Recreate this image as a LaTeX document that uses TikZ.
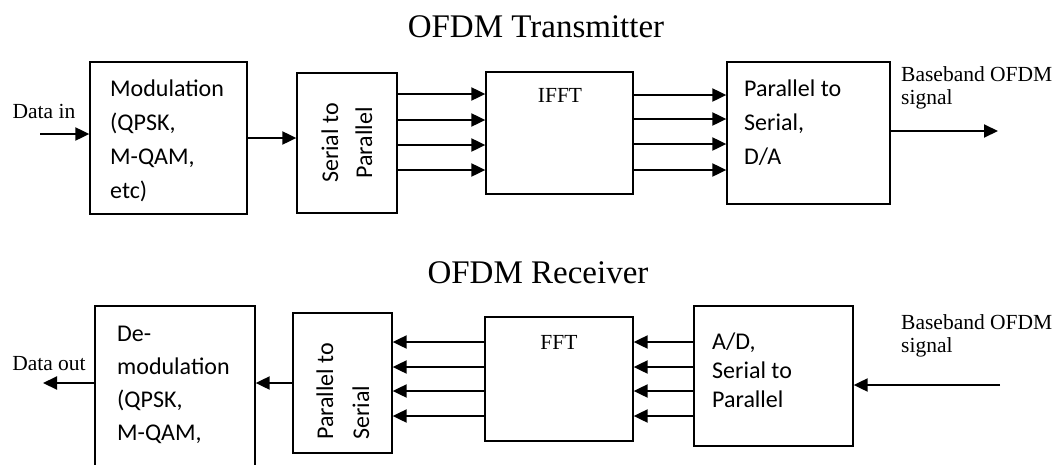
\documentclass[tikz,border=0pt]{standalone}
\usepackage{fontspec}
\setmainfont{Liberation Serif}
\newfontfamily\calfont{Carlito}
\usetikzlibrary{arrows.meta}

\begin{document}
\begin{tikzpicture}[x=1pt,y=-1pt]
    \tikzstyle{blk}=[draw,line width=1.3pt,inner sep=0pt]
    \tikzstyle{btxt}=[font=\calfont\fontsize{24pt}{34pt}\selectfont,align=left,inner sep=0pt]
    \tikzstyle{lbl}=[font=\fontsize{21.5pt}{23pt}\selectfont,align=left,inner sep=0pt]
    \tikzstyle{ttl}=[font=\fontsize{33pt}{40pt}\selectfont,inner sep=0pt]
    \tikzstyle{arr}=[-{Triangle[length=14pt,width=13pt]},line width=2pt]
    \useasboundingbox (0,0) rectangle (1061,464);
    % transmitter
    \node[ttl,anchor=base] (txtitle) at (536,37) {OFDM Transmitter};
    \node[lbl,anchor=base] (datain) at (44,118) {Data in};
    \coordinate (din) at (40,134);
    \node[blk,minimum width=157pt,minimum height=152pt] (mod) at (168.5,138) {};
    \node[btxt,anchor=north west] (modtxt) at (110,80) {Modulation\\(QPSK,\\M-QAM,\\etc)};
    \node[blk,minimum width=100pt,minimum height=140pt] (sp) at (347,143) {};
    \node[btxt,rotate=90,align=center] (sptxt) at (sp.center) {Serial to\\Parallel};
    \node[blk,minimum width=147pt,minimum height=122pt] (ifft) at (559.5,133) {};
    \node[lbl] (iffttxt) at (560,95) {IFFT};
    \node[blk,minimum width=163pt,minimum height=142pt] (ps) at (808.5,133) {};
    \node[btxt,anchor=north west] (pstxt) at (744,80) {Parallel to\\Serial,\\D/A};
    \node[lbl,anchor=north west] (bbtx) at (901,66) {Baseband OFDM\\signal};
    \coordinate (sigout) at (998,131);
    \draw[arr] (din) -- (din -| mod.west);
    \draw[arr] (mod.east) -- (mod.east -| sp.west);
    \foreach \y in {94,120,145,170}
        \draw[arr] (sp.east |- 0,\y) -- (ifft.west |- 0,\y);
    \foreach \y in {95,119,144,170}
        \draw[arr] (ifft.east |- 0,\y) -- (ps.west |- 0,\y);
    \draw[arr] (ps.east |- sigout) -- (sigout);
    % receiver
    \node[ttl,anchor=base] (rxtitle) at (538,283) {OFDM Receiver};
    \node[lbl,anchor=base] (dataout) at (49,370) {Data out};
    \coordinate (dout) at (43,383);
    \node[blk,minimum width=160pt,minimum height=164pt] (demod) at (175,388) {};
    \node[btxt,anchor=north west,font=\calfont\fontsize{24pt}{33pt}\selectfont] (demodtxt) at (117,326) {De-\\modulation\\(QPSK,\\M-QAM,};
    \node[blk,minimum width=99pt,minimum height=140pt] (rps) at (342.5,383) {};
    \node[btxt,rotate=90,anchor=west,font=\calfont\fontsize{24pt}{36pt}\selectfont] (rpstxt) at (343,440) {Parallel to\\Serial};
    \node[blk,minimum width=148pt,minimum height=124pt] (fft) at (559,379) {};
    \node[lbl] (ffttxt) at (559,342) {FFT};
    \node[blk,minimum width=159pt,minimum height=140pt] (ad) at (773.5,376) {};
    \node[btxt,anchor=north west,font=\calfont\fontsize{24pt}{29pt}\selectfont] (adtxt) at (712,333) {A/D,\\Serial to\\Parallel};
    \node[lbl,anchor=north west] (bbrx) at (901,314) {Baseband OFDM\\signal};
    \coordinate (sigin) at (1000,385);
    \draw[arr] (sigin) -- (sigin -| ad.east);
    \foreach \y in {342,367,391,416}
        \draw[arr] (ad.west |- 0,\y) -- (fft.east |- 0,\y);
    \foreach \y in {342,367,391,416}
        \draw[arr] (fft.west |- 0,\y) -- (rps.east |- 0,\y);
    \draw[arr] (rps.west) -- (rps.west -| demod.east);
    \draw[arr] (demod.west |- dout) -- (dout);
\end{tikzpicture}
\end{document}
